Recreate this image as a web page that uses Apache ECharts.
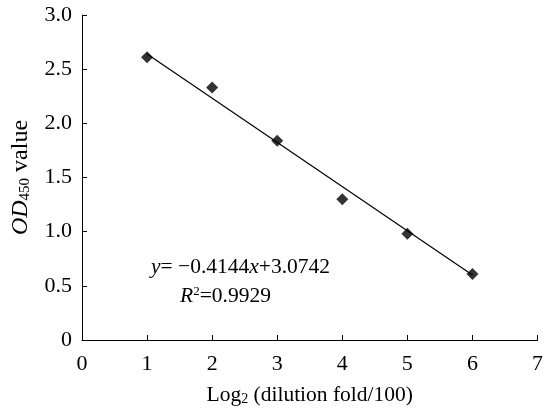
<!DOCTYPE html>
<html>
<head>
<meta charset="utf-8">
<script src="https://cdn.jsdelivr.net/npm/echarts@6/dist/echarts.min.js"></script>
<style>
    html, body { margin: 0; padding: 0; background: #fff; }
    #chart { width: 546px; height: 412px; }
</style>
</head>
<body>
<div id="chart"></div>
<script>
// measured points
const dilutionX = [1, 2, 3, 4, 5, 6];
const odValues = [2.61, 2.33, 1.84, 1.30, 0.98, 0.61];

// fitted line end points
const trendX = [1, 6];
const trendY = [2.64, 0.6];

const FONT = '"Liberation Serif", "Times New Roman", serif';

const chart = echarts.init(document.getElementById('chart'));

const option = {
    backgroundColor: '#fff',
    animation: false,
    grid: { left: 82, right: 8, top: 15, bottom: 72 },
    xAxis: {
        type: 'value',
        min: 0,
        max: 7,
        interval: 1,
        name: '{n|Log}{s|2}{n| (dilution fold/100)}',
        nameLocation: 'middle',
        nameGap: 44,
        nameTextStyle: {
            verticalAlign: 'top',
            rich: {
                n: { fontFamily: FONT, fontSize: 21.5, color: '#000' },
                s: { fontFamily: FONT, fontSize: 14, color: '#000', verticalAlign: 'bottom', padding: [8, 0, 0, 0] }
            }
        },
        axisLine: { lineStyle: { color: '#000', width: 1 } },
        axisTick: { inside: true, length: 5, lineStyle: { color: '#000' } },
        axisLabel: { fontFamily: FONT, fontSize: 22, color: '#000', margin: 13 },
        splitLine: { show: false }
    },
    yAxis: {
        type: 'value',
        min: 0,
        max: 3,
        interval: 0.5,
        name: '{i|OD}{s|450}{n| value}',
        nameLocation: 'middle',
        nameGap: 49,
        nameTextStyle: {
            rich: {
                i: { fontFamily: FONT, fontSize: 24, color: '#000', fontStyle: 'italic' },
                n: { fontFamily: FONT, fontSize: 24, color: '#000' },
                s: { fontFamily: FONT, fontSize: 15, color: '#000', verticalAlign: 'bottom', padding: [9, 0, 0, 0] }
            }
        },
        axisLine: { show: true, lineStyle: { color: '#000', width: 1 } },
        axisTick: { show: true, inside: true, length: 5, lineStyle: { color: '#000' } },
        axisLabel: {
            fontFamily: FONT, fontSize: 22, color: '#000', margin: 10,
            formatter: v => (v === 0 ? '0' : v.toFixed(1))
        },
        splitLine: { show: false }
    },
    graphic: [
        {
            type: 'text',
            left: 151,
            top: 256,
            style: {
                text: '{i|y}{n|= \u22120.4144}{i|x}{n|+3.0742}',
                rich: {
                    i: { fontFamily: FONT, fontSize: 21.5, fill: '#000', fontStyle: 'italic' },
                    n: { fontFamily: FONT, fontSize: 21.5, fill: '#000' }
                }
            }
        },
        {
            type: 'text',
            left: 180,
            top: 285,
            style: {
                text: '{i|R}{p|2}{n|=0.9929}',
                rich: {
                    i: { fontFamily: FONT, fontSize: 21.5, fill: '#000', fontStyle: 'italic' },
                    p: { fontFamily: FONT, fontSize: 13, fill: '#000', verticalAlign: 'top', padding: [0, 0, 8, 0] },
                    n: { fontFamily: FONT, fontSize: 21.5, fill: '#000' }
                }
            }
        }
    ],
    series: [
        {
            type: 'line',
            data: trendX.map((x, i) => [x, trendY[i]]),
            showSymbol: false,
            lineStyle: { color: '#000', width: 1.2 },
            silent: true,
            z: 1
        },
        {
            type: 'scatter',
            data: dilutionX.map((x, i) => [x, odValues[i]]),
            symbol: 'diamond',
            symbolSize: 12,
            itemStyle: { color: '#000' },
            z: 2
        }
    ]
};

chart.setOption(option);
</script>
</body>
</html>
